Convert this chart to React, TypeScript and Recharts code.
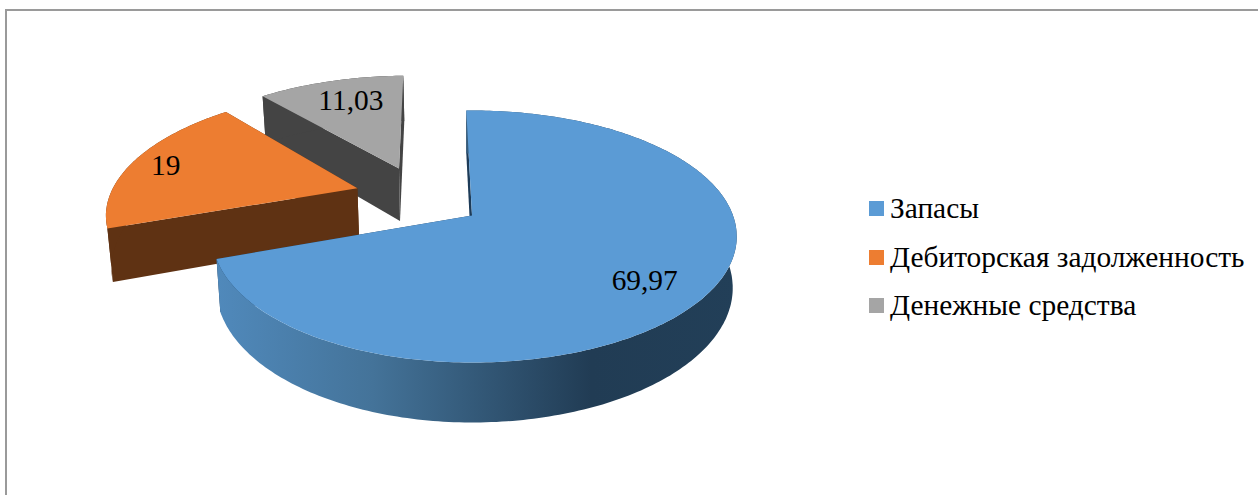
import React from "react";
import { PieChart, Pie, Legend } from "recharts";

// Data, in the order the legend reads
const categories = ["Запасы", "Дебиторская задолженность", "Денежные средства"];
const shares = [69.97, 19, 11.03];
const topColors = ["#5b9bd5", "#ed7d31", "#a5a5a5"];

// Painted back-to-front, so the pie walks the slices counter-clockwise from the top
const rows = categories
  .map((name, i) => ({ name, value: shares[i], fill: topColors[i] }))
  .reverse();

// View and style settings
const WIDTH = 1258;
const HEIGHT = 495;
const CX = 472;
const CY = 215.5;
const RX = 261;
const SQUASH = 122.5 / 261;
const PERSPECTIVE = 1 / 6;
const DEPTH = 50;
const FOOT_SHRINK = 0.985;
const explode: Record<string, [number, number]> = {
  "Запасы": [0, 0],
  "Дебиторская задолженность": [-0.456, 0.231],
  "Денежные средства": [-0.299, 0.41],
};
const leftSqueeze: Record<string, number> = {
  "Запасы": 0.981,
  "Дебиторская задолженность": 0.973,
  "Денежные средства": 1,
};
const depthScale: Record<string, number> = {
  "Запасы": 1,
  "Дебиторская задолженность": 1.05,
  "Денежные средства": 1.12,
};
const wallFill: Record<string, string> = {
  "Запасы": "url(#blueWall)",
  "Дебиторская задолженность": "#5f3213",
  "Денежные средства": "#444444",
};
const faceFill: Record<string, string> = {
  "Запасы": "#1d3b58",
  "Дебиторская задолженность": "#5f3213",
  "Денежные средства": "#444444",
};
const labelReach: Record<string, number> = {
  "Запасы": 0.75,
  "Дебиторская задолженность": 0.83,
  "Денежные средства": 0.72,
};
const labelNudge: Record<string, [number, number]> = {
  "Запасы": [-1, 9],
  "Дебиторская задолженность": [0, 0],
  "Денежные средства": [3, -3],
};
const FONT = '"Liberation Serif", "Times New Roman", serif';

type Pt = [number, number];

function project(u: number, v: number, cx: number, cy: number, r: number): Pt {
  const s = 1 / (1 + PERSPECTIVE * v);
  return [cx + r * u * s, cy - r * SQUASH * v * s];
}
function foot(u: number, v: number, cx: number, cy: number, r: number, k: number): Pt {
  const s = 1 / (1 + PERSPECTIVE * v);
  const [x, y] = project(u, v, cx, cy, r);
  return [cx + (x - cx) * FOOT_SHRINK, y + DEPTH * k * s];
}
function toPath(points: Pt[]): string {
  return "M" + points.map((p) => `${p[0].toFixed(1)},${p[1].toFixed(1)}`).join("L") + "Z";
}

function Slice3D(props: any) {
  const { cx, cy, outerRadius, startAngle, endAngle, fill, name } = props;
  const key = name ?? props.payload?.name;
  const [ou, ov] = explode[key];
  const squeeze = leftSqueeze[key];
  const k = depthScale[key];
  const a0 = Math.min(startAngle, endAngle);
  const a1 = Math.max(startAngle, endAngle);
  const steps = Math.max(8, Math.ceil(a1 - a0));
  const rim: [number, number][] = [];
  for (let i = 0; i <= steps; i++) {
    const t = ((a0 + ((a1 - a0) * i) / steps) * Math.PI) / 180;
    const du = Math.cos(t);
    rim.push([ou + (du < 0 ? du * squeeze : du), ov + Math.sin(t)]);
  }
  const P = (q: [number, number]) => project(q[0], q[1], cx, cy, outerRadius);
  const F = (q: [number, number]) => foot(q[0], q[1], cx, cy, outerRadius, k);
  const apex: [number, number] = [ou, ov];
  const first = rim[0];
  const last = rim[rim.length - 1];
  const wall = [...rim.map(P), ...rim.slice().reverse().map(F)];
  const faceA = [P(apex), P(first), F(first), F(apex)];
  const faceB = [P(apex), P(last), F(last), F(apex)];
  const top = [P(apex), ...rim.map(P)];
  return (
    <g>
      <path d={toPath(faceA)} fill={faceFill[key]} />
      <path d={toPath(faceB)} fill={faceFill[key]} />
      <path d={toPath(wall)} fill={wallFill[key]} />
      <path d={toPath(top)} fill={fill} />
    </g>
  );
}

function SliceLabel(props: any) {
  const { cx, cy, outerRadius, midAngle, value, name } = props;
  const key = name ?? props.payload?.name;
  const [ou, ov] = explode[key];
  const t = (midAngle * Math.PI) / 180;
  const f = labelReach[key];
  const [x, y] = project(ou + f * Math.cos(t), ov + f * Math.sin(t), cx, cy, outerRadius);
  const [nx, ny] = labelNudge[key];
  return (
    <text x={x + nx} y={y + ny} textAnchor="middle" dominantBaseline="central" fontFamily={FONT} fontSize={29.4} fill="#000">
      {String(value).replace(".", ",")}
    </text>
  );
}

function LegendList(props: any) {
  const items = (props.payload ?? []).slice().reverse();
  return (
    <div style={{ fontFamily: FONT, fontSize: 29.4, color: "#000" }}>
      {items.map((it: any) => (
        <div key={it.value} style={{ height: 48.5, display: "flex", alignItems: "center", whiteSpace: "nowrap" }}>
          <span style={{ width: 15, height: 15, background: it.color, marginRight: 6, display: "inline-block" }} />
          {it.value}
        </div>
      ))}
    </div>
  );
}

export default function App() {
  return (
    <div style={{ position: "absolute", left: 0, top: 0, width: WIDTH, height: HEIGHT, background: "#fff", overflow: "hidden" }}>
      <div
        style={{
          position: "absolute",
          left: 5,
          top: 9,
          width: WIDTH,
          height: HEIGHT,
          borderLeft: "2px solid #9a9a9a",
          borderTop: "2px solid #9a9a9a",
        }}
      />
      <PieChart width={WIDTH} height={HEIGHT} margin={{ top: 0, right: 0, bottom: 0, left: 0 }} style={{ position: "absolute", left: 0, top: 0 }}>
        <defs>
          <linearGradient id="blueWall" gradientUnits="userSpaceOnUse" x1={217} y1={0} x2={737} y2={0}>
            <stop offset="0" stopColor="#5089bb" />
            <stop offset="0.3" stopColor="#447399" />
            <stop offset="0.72" stopColor="#213c54" />
            <stop offset="1" stopColor="#223f58" />
          </linearGradient>
        </defs>
        <Pie
          data={rows}
          dataKey="value"
          nameKey="name"
          cx={CX}
          cy={CY}
          outerRadius={RX}
          innerRadius={0}
          startAngle={91.5}
          endAngle={451.5}
          stroke="none"
          paddingAngle={0}
          isAnimationActive={false}
          shape={Slice3D}
          label={SliceLabel}
          labelLine={false}
          legendType="square"
        />
        <Legend
          layout="vertical"
          align="right"
          verticalAlign="top"
          itemSorter={null}
          content={LegendList}
          wrapperStyle={{ left: 869, right: "auto", top: 184.5, width: 389 }}
        />
      </PieChart>
    </div>
  );
}
